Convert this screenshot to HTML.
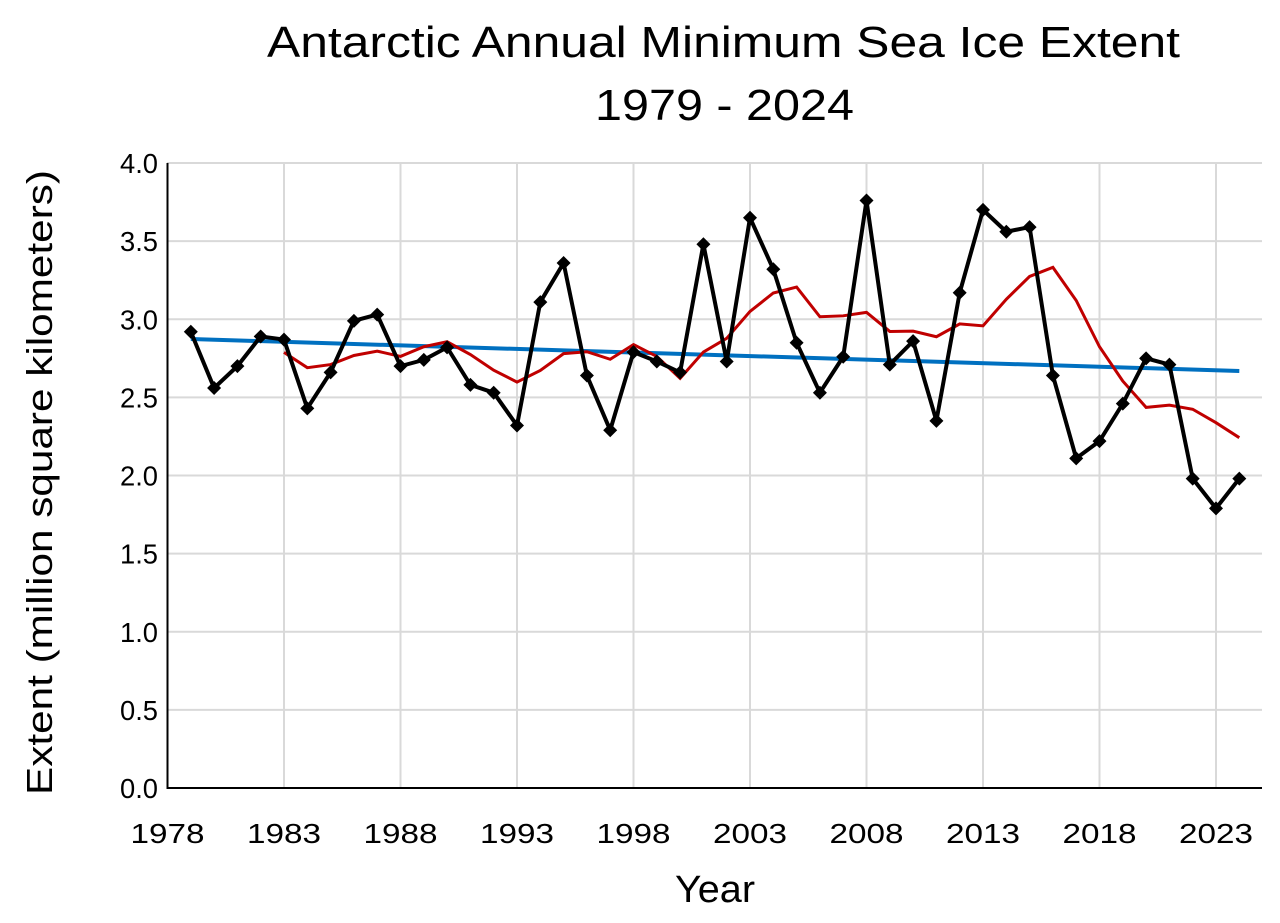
<!DOCTYPE html>
<html><head><meta charset="utf-8"><style>
html,body{margin:0;padding:0;background:#fff;}
svg text{font-family:"Liberation Sans",sans-serif;fill:#000;}
</style></head><body>
<svg id="c" width="1280" height="918" xmlns="http://www.w3.org/2000/svg">
<text x="267" y="57" font-size="44" textLength="913" lengthAdjust="spacingAndGlyphs">Antarctic Annual Minimum Sea Ice Extent</text>
<text x="595" y="120" font-size="44" textLength="259" lengthAdjust="spacingAndGlyphs">1979 - 2024</text>
<text x="675" y="902" font-size="38" textLength="80" lengthAdjust="spacingAndGlyphs">Year</text>
<text transform="translate(52,795) rotate(-90)" font-size="36" textLength="625" lengthAdjust="spacingAndGlyphs">Extent (million square kilometers)</text>
<g id="g"></g>
</svg>
<script>
var d=[2.92,2.56,2.70,2.89,2.87,2.43,2.66,2.99,3.03,2.70,2.74,2.82,2.58,2.53,2.32,3.11,3.36,2.64,2.29,2.79,2.73,2.66,3.48,2.73,3.65,3.32,2.85,2.53,2.76,3.76,2.71,2.86,2.35,3.17,3.70,3.56,3.59,2.64,2.11,2.22,2.46,2.75,2.71,1.98,1.79,1.98];
var X=function(yr){return 167.5+(yr-1978)*23.3;},Y=function(v){return 788-v*156.25;};
var s='';
for(var i=1;i<=8;i++)s+='<line x1="167" x2="1262" y1="'+Y(i*0.5)+'" y2="'+Y(i*0.5)+'" stroke="#d9d9d9" stroke-width="2"/>';
for(var yr=1983;yr<=2023;yr+=5)s+='<line x1="'+X(yr)+'" x2="'+X(yr)+'" y1="163" y2="788" stroke="#d9d9d9" stroke-width="2"/>';
s+='<line x1="167.5" x2="167.5" y1="163" y2="789" stroke="#000" stroke-width="2"/>';
s+='<line x1="167" x2="1262" y1="788" y2="788" stroke="#000" stroke-width="2"/>';
for(var i=0;i<=8;i++)s+='<text x="158" y="'+(Y(i*0.5)+10)+'" font-size="28" text-anchor="end" textLength="38" lengthAdjust="spacingAndGlyphs">'+(i*0.5).toFixed(1)+'</text>';
for(var yr=1978;yr<=2023;yr+=5)s+='<text x="'+(X(yr)-37)+'" y="843" font-size="28" textLength="74" lengthAdjust="spacingAndGlyphs">'+yr+'</text>';
s+='<line x1="'+X(1979)+'" y1="339" x2="'+X(2024)+'" y2="371" stroke="#0070c0" stroke-width="4"/>';
var r=[];for(var i=4;i<d.length;i++){var m=(d[i]+d[i-1]+d[i-2]+d[i-3]+d[i-4])/5;r.push(X(1979+i)+','+Y(m));}
s+='<polyline points="'+r.join(' ')+'" fill="none" stroke="#c00000" stroke-width="3"/>';
var p=d.map(function(v,i){return X(1979+i)+','+Y(v);});
s+='<polyline points="'+p.join(' ')+'" fill="none" stroke="#000" stroke-width="4" stroke-linejoin="round"/>';
d.forEach(function(v,i){var x=X(1979+i),y=Y(v);s+='<polygon points="'+x+','+(y-7)+' '+(x+7)+','+y+' '+x+','+(y+7)+' '+(x-7)+','+y+'" fill="#000"/>';});
document.getElementById('g').innerHTML=s;
</script>
</body></html>
